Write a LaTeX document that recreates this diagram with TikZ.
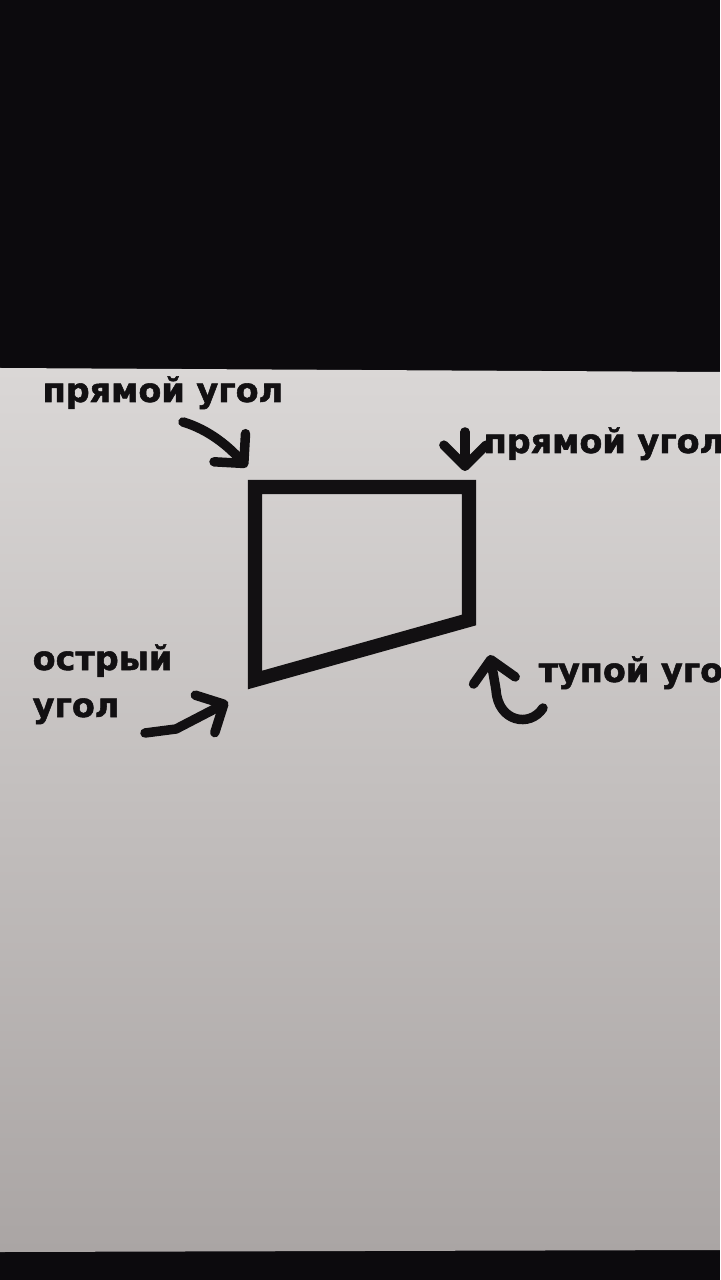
\documentclass[tikz,border=0pt]{standalone}
\usepackage{fontspec}
\setmainfont{DejaVu Sans}
\newfontfamily\heavyfont[FakeBold=1.6]{DejaVu Sans Bold}
\usetikzlibrary{arrows.meta,positioning}
\definecolor{screen}{RGB}{12,10,13}
\definecolor{ink}{RGB}{18,16,18}
\definecolor{paper top}{RGB}{218,215,214}
\definecolor{paper mid}{RGB}{201,198,197}
\definecolor{paper low}{RGB}{170,165,164}
\tikzset{
    quad/.style={draw=ink, line width=4pt, line join=miter},
    hand/.style={draw=ink, line width=2.7pt, line cap=round, line join=round,
        -{Straight Barb[length=6pt, width=12pt, round]}},
    lbl/.style={font=\heavyfont\fontsize{9.5}{11}\selectfont, text=ink, inner sep=0pt, anchor=base west}
}
\begin{document}
\begin{tikzpicture}[x=0.01cm, y=-0.01cm]
    \useasboundingbox (0,0) rectangle (720,1280);
    % photo of the screen
    \fill[screen] (0,0) rectangle (720,1280);
    \shade[top color=paper top, middle color=paper mid, bottom color=paper low]
        (0,368) -- (720,372) -- (720,1250) -- (0,1252) -- cycle;
    % corners of the figure
    \coordinate (c1) at (255,487);
    \coordinate (c2) at (469,487);
    \coordinate (c3) at (469,620);
    \coordinate (c4) at (255,680);
    \draw[quad] (c1) -- (c2) -- (c3) -- (c4) -- cycle;
    % labels
    \node[lbl] (l1) at (42,402) {прямой угол};
    \node[lbl] (l2) at (483,453) {прямой угол};
    \node[lbl] (l3) at (32,670) {острый};
    \node[lbl] (l3b) at (32,717) {угол};
    \node[lbl] (l4) at (538,682) {тупой угол};
    % hand drawn arrows
    \coordinate (a1) at (183,422);
    \coordinate (b1) at (247,467);
    \coordinate (a2) at (465,432);
    \coordinate (b2) at (465,471);
    \coordinate (a3) at (145,733);
    \coordinate (m3) at (176,729);
    \coordinate (b3) at (228,702);
    \coordinate (a4) at (543,708);
    \coordinate (m4) at (496,690);
    \coordinate (b4) at (490,655);
    \draw[hand] (a1) .. controls (210,430) and (230,448) .. (b1);
    \draw[hand] (a2) -- (b2);
    \draw[hand] (a3) -- (m3) -- (b3);
    \draw[hand] (a4) .. controls (530,728) and (498,722) .. (m4) -- (b4);
\end{tikzpicture}
\end{document}
